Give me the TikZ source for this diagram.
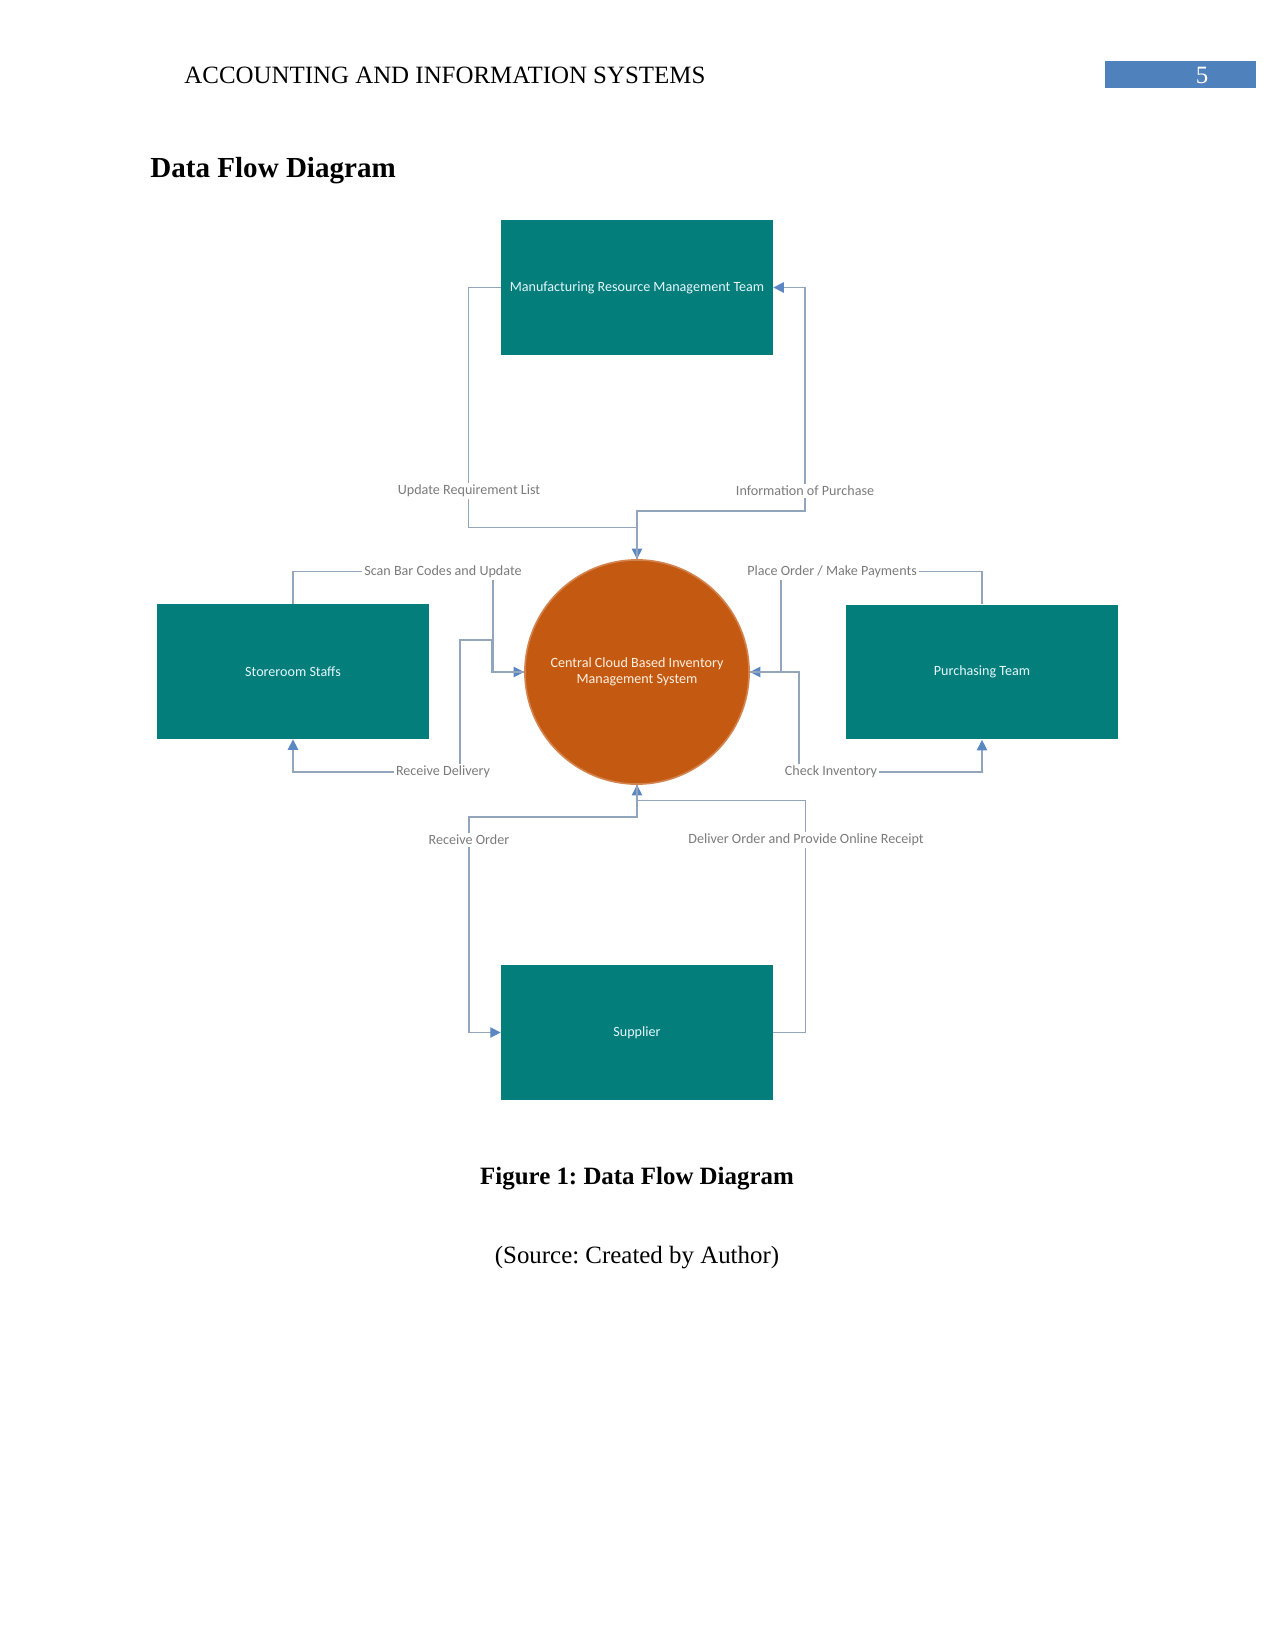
\documentclass[tikz,border=0pt]{standalone}
\usepackage{fontspec}
\setmainfont{Liberation Serif}
\newfontfamily\dfdfont{Carlito}
\usepackage{xcolor}
\usetikzlibrary{arrows.meta,positioning}
\definecolor{dfdteal}  {HTML}{037E7B}
\definecolor{dfdorange}{HTML}{C45A12}
\definecolor{dfdline}  {HTML}{93A5BA}
\definecolor{dfdarrow} {HTML}{5B87C2}
\definecolor{dfdlabel} {HTML}{7B7B7B}
\definecolor{hdrblue}  {HTML}{4F81BD}
\frenchspacing

\begin{document}
\begin{tikzpicture}[
  x=0.4818pt, y=-0.4818pt,
  dfd/.style={font=\dfdfont\fontsize{6.8}{7.7}\selectfont},
  entity/.style={dfd, rectangle, minimum width=131pt, minimum height=65pt,
                 inner sep=0pt, fill=dfdteal, text=cyan!10!white},
  process/.style={dfd, circle, minimum size=108pt, inner sep=0pt, align=center,
                  fill=dfdorange, draw=dfdorange!75!white, line width=0.8pt,
                  text=orange!12!white},
  lbl/.style={dfd, fill=white, text=dfdlabel, inner sep=1pt},
  arr/.style={draw=dfdline, line width=0.6pt,
              -{Triangle[length=5pt, width=5pt, color=dfdarrow]}},
]
\useasboundingbox (0,0) rectangle (1275,1651);

% page header
\node[anchor=west, inner sep=0pt, font=\fontsize{12}{14}\selectfont](hdr) at (184,75)
  {ACCOUNTING AND INFORMATION SYSTEMS};
\node[fill=hdrblue, text=white, minimum width=72.7pt, minimum height=13.2pt,
      inner sep=0pt, font=\fontsize{12}{14}\selectfont](pgno) at (1180.5,74.5) {};
\node[text=white, font=\fontsize{12}{14}\selectfont](pgnum) at (1202,75) {5};
\node[anchor=west, inner sep=0pt, font=\bfseries\fontsize{14}{16}\selectfont](title) at (150,171)
  {Data Flow Diagram};

% entities and process
\node[entity](mrm)   at (637,287.5) {Manufacturing Resource Management Team};
\node[entity](store) at (293,671.5) {Storeroom Staffs};
\node[entity](purch) at (982,672)   {Purchasing Team};
\node[entity](supp)  at (637,1032.5){Supplier};
\node[process](ims)  at (637,672)
  {Central Cloud Based Inventory\\Management System};

% flows
\draw[arr](mrm.west) -- ++(-32,0) -- ++(0,240) -| (ims.north);
\draw[arr](ims.north) -- ++(0,-48) -- ++(168,0) |- (mrm.east);
\draw[arr](store.north) -- ++(0,-32) -- ++(200,0) |- (ims.west);
\draw[arr](ims.west) -- ++(-32,0) -- ++(0,-32) -- ++(-32,0) -- ++(0,132) -| (store.south);
\draw[arr](purch.north) -- ++(0,-33) -- ++(-201,0) |- (ims.east);
\draw[arr](ims.east) -- ++(49,0) -- ++(0,100) -| (purch.south);
\draw[arr](supp.east) -- ++(32,0) -- ++(0,-232) -| (ims.south);
\draw[arr](ims.south) -- ++(0,32) -- ++(-168,0) |- (supp.west);

% flow labels
\node[lbl](lupd)   at (469,491) {Update Requirement List};
\node[lbl](linfo)  at (805,491) {Information of Purchase};
\node[lbl](lscan)  at (443,572) {Scan Bar Codes and Update};
\node[lbl](lrecd)  at (443,772) {Receive Delivery};
\node[lbl](lplace) at (832,572) {Place Order / Make Payments};
\node[lbl](lcheck) at (831,772) {Check Inventory};
\node[lbl](lreco)  at (469,840) {Receive Order};
\node[lbl](ldelo)  at (806,840) {Deliver Order and Provide Online Receipt};

% caption
\node[font=\bfseries\fontsize{12}{14}\selectfont](cap) at (637,1179)
  {Figure 1: Data Flow Diagram};
\node[font=\fontsize{12}{14}\selectfont](src) at (637,1258)
  {(Source: Created by Author)};
\end{tikzpicture}
\end{document}
